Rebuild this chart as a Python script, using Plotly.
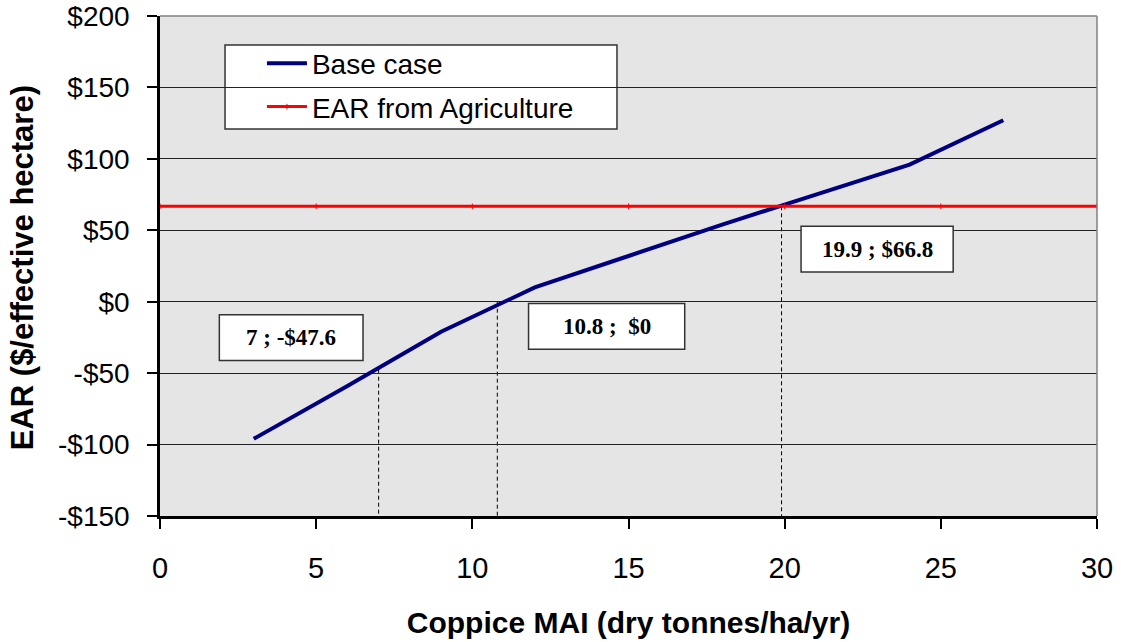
import plotly.graph_objects as go

# Coppice mean annual increment (dry t/ha/yr) and equivalent annual return ($/effective ha)
mai = [3, 6, 9, 12, 15, 18, 21, 24, 27]
ear_base = [-96, -59, -21, 10, 32, 54, 75, 96, 127]

ag_x = [0, 5, 10, 15, 20, 25, 30]
ag_ear = [66.8, 66.8, 66.8, 66.8, 66.8, 66.8, 66.8]

# Marked points: (MAI, EAR, label)
mark_x = [7, 10.8, 19.9]
mark_y = [-47.6, 0, 66.8]
mark_text = ["7 ; -$47.6", "10.8 ;  $0", "19.9 ; $66.8"]
# label box centres in data coords
box_cx = [4.2, 14.3, 22.96]
box_cy = [-25.2, -17.2, 36.8]
box_w = [4.6, 5.0, 4.87]
box_h = [32, 32, 32]

y_ticks = [-150, -100, -50, 0, 50, 100, 150, 200]
y_text = ["-$150", "-$100", "-$50", "$0", "$50", "$100", "$150", "$200"]
x_ticks = [0, 5, 10, 15, 20, 25, 30]

fig = go.Figure()

fig.add_trace(go.Scatter(
    x=mai, y=ear_base, mode="lines", name="Base case", legendgroup="a",
    line=dict(color="#000080", width=4)))
fig.add_trace(go.Scatter(
    x=ag_x, y=ag_ear, mode="lines+markers", name="EAR from Agriculture",
    legendgroup="b",
    line=dict(color="#ff0000", width=3),
    marker=dict(symbol="line-ns", size=4, color="#ff0000",
                line=dict(color="#ff0000", width=1))))

shapes = []
# dashed drop lines from each marked point to the x axis
for mx, my in zip(mark_x, mark_y):
    shapes.append(dict(type="line", xref="x", yref="y", x0=mx, x1=mx, y0=my, y1=-150,
                       line=dict(color="black", width=1, dash="4px,3px"), layer="below"))
# label boxes
annotations = []
for cx, cy, w, h, t in zip(box_cx, box_cy, box_w, box_h, mark_text):
    shapes.append(dict(type="rect", xref="x", yref="y", x0=cx - w / 2, x1=cx + w / 2,
                       y0=cy - h / 2, y1=cy + h / 2, fillcolor="white",
                       line=dict(color="#333333", width=1.5)))
    annotations.append(dict(x=cx, y=cy, xref="x", yref="y", text="<b>" + t + "</b>",
                            showarrow=False,
                            font=dict(family="Liberation Serif", size=23, color="black")))
# y-axis title
annotations.append(dict(x=-0.147, y=0.496, xref="paper", yref="paper",
                        text="<b>EAR ($/effective hectare)</b>", textangle=-90,
                        showarrow=False, xanchor="center", yanchor="middle",
                        font=dict(family="Liberation Sans", size=31, color="black")))
# top and right frame of plot area
shapes.append(dict(type="line", xref="paper", yref="paper", x0=0, x1=1, y0=1, y1=1,
                   line=dict(color="#808080", width=1.5)))
shapes.append(dict(type="line", xref="paper", yref="paper", x0=1, x1=1, y0=0, y1=1,
                   line=dict(color="#808080", width=1.5)))
# legend frame
shapes.append(dict(type="rect", xref="paper", yref="paper", x0=0.0694, x1=0.4877,
                   y0=0.774, y1=0.942, fillcolor="white",
                   line=dict(color="#333333", width=1.5), layer="below"))

fig.update_layout(
    width=1121, height=642,
    margin=dict(l=160, r=24, t=16, b=126),
    paper_bgcolor="white",
    plot_bgcolor="#e5e5e5",
    font=dict(family="Liberation Sans", color="black"),
    showlegend=True,
    legend=dict(x=0.1088, y=0.955, xanchor="left", yanchor="top",
                bgcolor="rgba(0,0,0,0)", borderwidth=0,
                font=dict(family="Liberation Sans", size=28),
                itemwidth=40, tracegroupgap=4),
    shapes=shapes,
    annotations=annotations,
    xaxis=dict(range=[0, 30], tickvals=x_ticks, ticks="outside", ticklen=10,
               tickwidth=2, tickcolor="black", showline=True, linecolor="black",
               linewidth=2.5, showgrid=False, zeroline=False, automargin=False,
               tickfont=dict(size=29), ticklabelstandoff=14,
               title=dict(text="<b>Coppice MAI (dry tonnes/ha/yr)</b>",
                          font=dict(size=30), standoff=30)),
    yaxis=dict(range=[-150, 200], tickvals=y_ticks, ticktext=y_text, ticks="outside",
               ticklen=10, tickwidth=2, tickcolor="black", showline=True,
               linecolor="black", linewidth=2.5, showgrid=True, gridcolor="#222222",
               gridwidth=1, zeroline=False, automargin=False,
               ticklabeloverflow="allow",
               tickfont=dict(size=28), ticklabelstandoff=12),
)

fig.write_html("out.html")
